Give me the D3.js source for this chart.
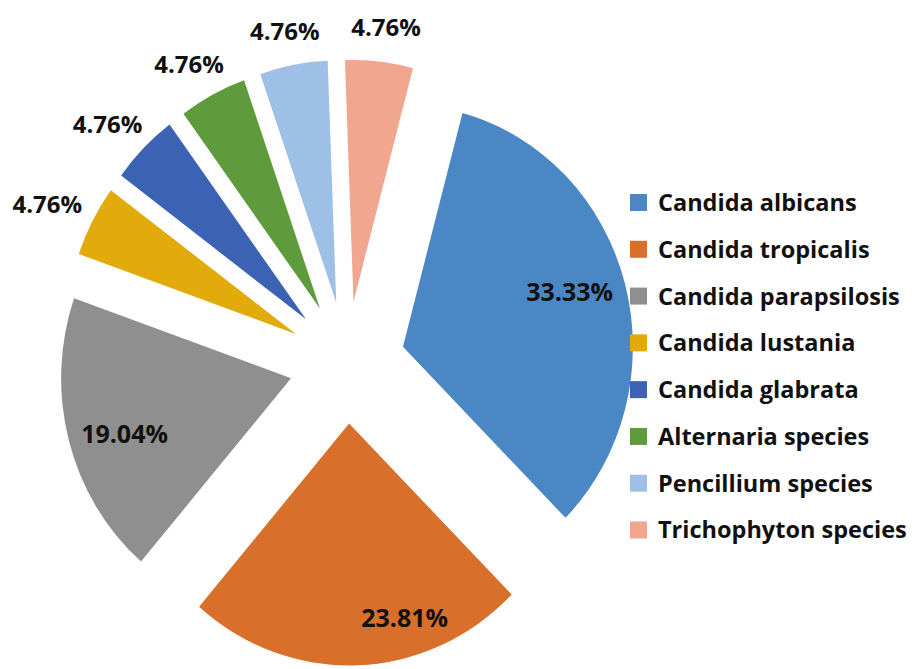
<!DOCTYPE html>
<html>
<head>
<meta charset="utf-8">
<script src="https://cdn.jsdelivr.net/npm/d3@7"></script>
<style>
  body { margin: 0; background: #fff; }
  text { font-family: "Open Sans", Lato, sans-serif; font-weight: bold; fill: #111; }
</style>
</head>
<body>
<div id="chart"></div>
<script>
// data
var species = ["Candida albicans", "Candida tropicalis", "Candida parapsilosis",
               "Candida lustania", "Candida glabrata", "Alternaria species",
               "Pencillium species", "Trichophyton species"];
var percents = [33.33, 23.81, 19.04, 4.76, 4.76, 4.76, 4.76, 4.76];
var colors = ["#4a87c4", "#d86f2a", "#8f8f8f", "#e2aa0a",
              "#3b62b3", "#5e9b3c", "#9fc0e6", "#f1a78f"];

var width = 919, height = 669;
var cx = 347, cy = 362.5,   // pie centre
    radius = 242,
    explode = 61,
    sx = 0.95;              // the picture is a bit squeezed horizontally

var svg = d3.select("#chart").append("svg")
    .attr("width", width)
    .attr("height", height);

var pie = d3.pie()
    .sort(null)
    .value(function(d) { return d; })
    .startAngle(15 * Math.PI / 180)
    .endAngle(15 * Math.PI / 180 + 2 * Math.PI);

var arcs = pie(percents);

var arc = d3.arc().innerRadius(0).outerRadius(radius);

// point at angle a (clockwise from north), distance r, before squeeze
function polar(a, r) {
    return [Math.sin(a) * r, -Math.cos(a) * r];
}

// inside labels for the big slices: r from the slice tip (in radii), t through the slice angle
function labelSpot(i) {
    if (i == 0) return {r: 0.76, t: 0.48};
    if (i == 1) return {r: 0.84, t: 0.33};
    return {r: 0.76, t: 0.46};
}

function labelPos(d, i, w) {
    var mid = (d.startAngle + d.endAngle) / 2;
    var p = polar(mid, explode);
    if (i < 3) {
        var s = labelSpot(i);
        var a = d.startAngle + (d.endAngle - d.startAngle) * s.t;
        var q = polar(a, s.r * radius);
        return [cx + (p[0] + q[0]) * sx, cy + p[1] + q[1]];
    }
    // outside: the label box sits just off the rim, pushed out along the bisector
    var q = polar(mid, radius * 1.1);
    return [cx + (p[0] + q[0]) * sx + Math.sin(mid) * w * 0.42 + 1,
            cy + p[1] + q[1] - Math.cos(mid) * 10];
}

var pieG = svg.append("g")
    .attr("transform", "translate(" + cx + "," + cy + ") scale(" + sx + ",1)");

pieG.selectAll("path.slice")
    .data(arcs)
    .enter().append("path")
    .attr("class", "slice")
    .attr("fill", function(d, i) { return colors[i]; })
    .attr("transform", function(d) {
        var p = polar((d.startAngle + d.endAngle) / 2, explode);
        return "translate(" + p[0] + "," + p[1] + ")";
    })
    .attr("d", arc);

// percentage labels (drawn unsqueezed)
svg.selectAll("text.pct")
    .data(arcs)
    .enter().append("text")
    .attr("class", "pct")
    .attr("text-anchor", "middle")
    .attr("dy", "0.36em")
    .style("font-size", function(d, i) { return i < 3 ? "25px" : "24px"; })
    .text(function(d) { return d.data.toFixed(2) + "%"; })
    .each(function(d, i) {
        var pos = labelPos(d, i, this.getComputedTextLength());
        d3.select(this).attr("x", pos[0]).attr("y", pos[1]);
    });

// legend
var legendY = d3.scalePoint()
    .domain(species)
    .range([202.5, 530]);

var legend = svg.selectAll("g.legend")
    .data(species)
    .enter().append("g")
    .attr("class", "legend")
    .attr("transform", function(d) { return "translate(630," + legendY(d) + ")"; });

legend.append("rect")
    .attr("x", 0).attr("y", -8.5)
    .attr("width", 17).attr("height", 17)
    .attr("fill", function(d, i) { return colors[i]; });

legend.append("text")
    .attr("x", 28)
    .attr("dy", "0.36em")
    .style("font-size", "23.5px")
    .text(function(d) { return d; });
</script>
</body>
</html>
